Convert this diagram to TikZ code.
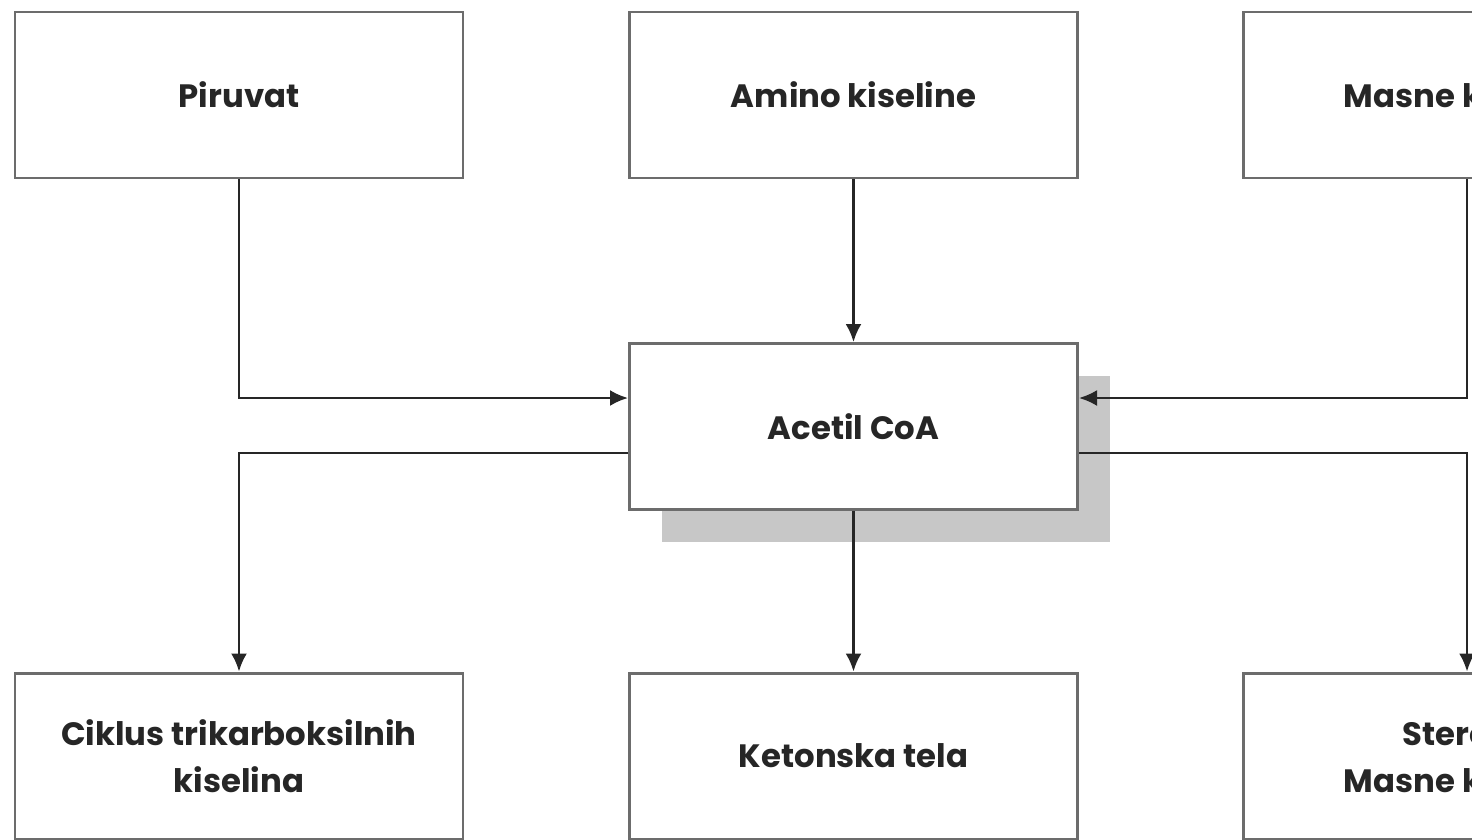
\documentclass[tikz,border=0pt]{standalone}
\usepackage{fontspec}
\setmainfont{Poppins}
\usetikzlibrary{arrows.meta,shadows}

\begin{document}
\begin{tikzpicture}[
    box/.style={draw=gray!85!black, line width=0.85pt, fill=white,
                minimum width=4.48cm, minimum height=1.66cm,
                align=center, text=black!85,
                font=\fontsize{9.2}{13.4}\selectfont\bfseries},
    % grey block offset down and right behind the central node
    hub/.style={box, drop shadow={shadow xshift=0.32cm, shadow yshift=-0.32cm,
                fill=black!22, draw=none, opacity=1}},
    flow/.style={black!85, line width=0.7pt, -{Latex[length=1.8mm,width=1.6mm]}},
]
\useasboundingbox (0,0) rectangle (14.72,-8.40);
\clip (0,0) rectangle (14.72,-8.40);

% sources
\node[box] (piruvat) at (2.39,-0.95) {Piruvat};
\node[box] (amino)   at (8.535,-0.95) {Amino kiseline};
\node[box] (masne)   at (14.67,-0.95) {Masne kiseline};

% centre
\node[hub] (acetil) at (8.535,-4.265) {Acetil CoA};

% products
\node[box] (ciklus)   at (2.39,-7.56)  {Ciklus trikarboksilnih\\kiselina};
\node[box] (ketoni)   at (8.535,-7.56) {Ketonska tela};
\node[box] (steroidi) at (14.67,-7.56) {Steroidi\\Masne kiseline};

% inflow
\draw[flow] (piruvat.south) |- ([yshift=2.85mm]acetil.west);
\draw[flow] (amino) -- (acetil);
\draw[flow] (masne.south) |- ([yshift=2.85mm]acetil.east);

% outflow
\draw[flow] ([yshift=-2.65mm]acetil.west) -| (ciklus.north);
\draw[flow] (acetil) -- (ketoni);
\draw[flow] ([yshift=-2.65mm]acetil.east) -| (steroidi.north);

\end{tikzpicture}
\end{document}
